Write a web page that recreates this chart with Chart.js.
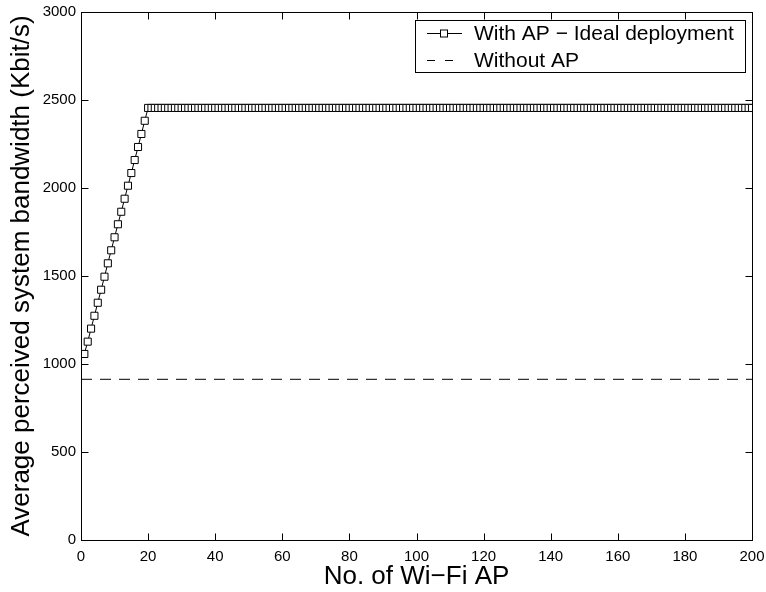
<!DOCTYPE html>
<html>
<head>
<meta charset="utf-8">
<script src="https://cdn.jsdelivr.net/npm/chart.js@4"></script>
<style>
  html, body { margin: 0; padding: 0; background: #fff; }
  #wrap { width: 766px; height: 592px; }
</style>
</head>
<body>
<div id="wrap"><canvas id="bw"></canvas></div>
<script>
// bandwidth while the AP count is still rising (x = 1..19)
const risingBw = [1057, 1127, 1201, 1274, 1348, 1422, 1496, 1572, 1646, 1720,
                  1794, 1865, 1939, 2013, 2085, 2159, 2233, 2307, 2382];
// saturated bandwidth from x = 20 on
const plateauBw = 2455;
const maxAp = 200;
const withoutApBw = 913;
const xTicks = [0, 20, 40, 60, 80, 100, 120, 140, 160, 180, 200];
const yTicks = [0, 500, 1000, 1500, 2000, 2500, 3000];
const seriesLabels = ["With AP \u2212 Ideal deployment", "Without AP"];

const withAp = [];
for (let i = 0; i < maxAp; i++) {
  const v = i < risingBw.length ? risingBw[i] : plateauBw;
  withAp.push({ x: i + 1, y: v });
}
const withoutAp = [{ x: 0, y: withoutApBw }, { x: maxAp, y: withoutApBw }];

const font = "Liberation Sans, Arial, Helvetica, sans-serif";
const dash = [11, 8];

// box around the plot, inward ticks on all four sides, legend box
const frame = {
  id: "frame",
  afterDraw(chart) {
    const ctx = chart.ctx;
    const a = chart.chartArea;
    const xs = chart.scales.x, ys = chart.scales.y;
    const L = Math.round(a.left) + 0.5, R = Math.round(a.right) + 0.5;
    const T = Math.round(a.top) + 0.5, B = Math.round(a.bottom) + 0.5;
    ctx.save();
    ctx.strokeStyle = "#000";
    ctx.lineWidth = 1;
    ctx.beginPath();
    xTicks.forEach(t => {
      const px = Math.round(xs.getPixelForValue(t)) + 0.5;
      ctx.moveTo(px, B); ctx.lineTo(px, B - 7);
      ctx.moveTo(px, T); ctx.lineTo(px, T + 7);
    });
    yTicks.forEach(t => {
      const py = Math.round(ys.getPixelForValue(t)) + 0.5;
      ctx.moveTo(L, py); ctx.lineTo(L + 7, py);
      ctx.moveTo(R, py); ctx.lineTo(R - 7, py);
    });
    ctx.stroke();
    ctx.strokeRect(L, T, R - L, B - T);

    // legend
    const lx = 415.5, ly = 20.5, lw = 330, lh = 52;
    ctx.fillStyle = "#fff";
    ctx.fillRect(lx, ly, lw, lh);
    ctx.strokeRect(lx, ly, lw, lh);
    ctx.font = "21px " + font;
    ctx.textBaseline = "middle";
    const rows = [33.5, 60.5];
    ctx.beginPath();
    ctx.moveTo(427, rows[0]); ctx.lineTo(462, rows[0]);
    ctx.stroke();
    ctx.fillStyle = "#fff";
    ctx.fillRect(440.5, rows[0] - 3.5, 7, 7);
    ctx.strokeRect(440.5, rows[0] - 3.5, 7, 7);
    ctx.setLineDash([8, 10]);
    ctx.beginPath();
    ctx.moveTo(427, rows[1]); ctx.lineTo(462, rows[1]);
    ctx.stroke();
    ctx.setLineDash([]);
    ctx.fillStyle = "#000";
    ctx.fillText(seriesLabels[0], 474, rows[0] + 1);
    ctx.fillText(seriesLabels[1], 474, rows[1] + 1);
    ctx.restore();
  }
};

new Chart(document.getElementById("bw"), {
  type: "line",
  data: {
    datasets: [
      {
        label: seriesLabels[0],
        data: withAp,
        borderColor: "#000",
        borderWidth: 1,
        pointStyle: "rect",
        pointRadius: 5,
        pointBackgroundColor: "#fff",
        pointBorderColor: "#000",
        pointBorderWidth: 1,
        tension: 0
      },
      {
        label: seriesLabels[1],
        data: withoutAp,
        borderColor: "#000",
        borderWidth: 1,
        borderDash: dash,
        pointRadius: 0,
        tension: 0
      }
    ]
  },
  options: {
    responsive: true,
    maintainAspectRatio: false,
    animation: false,
    layout: { padding: { top: 12, right: 14, left: 0, bottom: 0 } },
    plugins: { legend: { display: false }, tooltip: { enabled: false } },
    scales: {
      x: {
        type: "linear",
        min: 0, max: 200,
        afterBuildTicks: s => { s.ticks = xTicks.map(v => ({ value: v })); },
        afterFit: s => { s.height = 52; s.paddingLeft = 0; s.paddingRight = 0; },
        grid: { display: false, drawTicks: false },
        border: { display: false },
        ticks: { color: "#000", font: { family: font, size: 15 }, padding: 8, maxRotation: 0,
                 callback: v => String(v) },
        title: { display: true, text: "No. of Wi\u2212Fi AP", color: "#000",
                 font: { family: font, size: 26 }, padding: { top: 0, bottom: 0 } }
      },
      y: {
        min: 0, max: 3000,
        afterBuildTicks: s => { s.ticks = yTicks.map(v => ({ value: v })); },
        afterFit: s => { s.width = 81; s.paddingTop = 0; s.paddingBottom = 0; },
        grid: { display: false, drawTicks: false },
        border: { display: false },
        ticks: { color: "#000", font: { family: font, size: 15 }, padding: 5,
                 callback: v => String(v) },
        title: { display: true, text: "Average perceived system bandwidth (Kbit/s)", color: "#000",
                 font: { family: font, size: 26 }, padding: { top: 6, bottom: 0 } }
      }
    }
  },
  plugins: [frame]
});
</script>
</body>
</html>
